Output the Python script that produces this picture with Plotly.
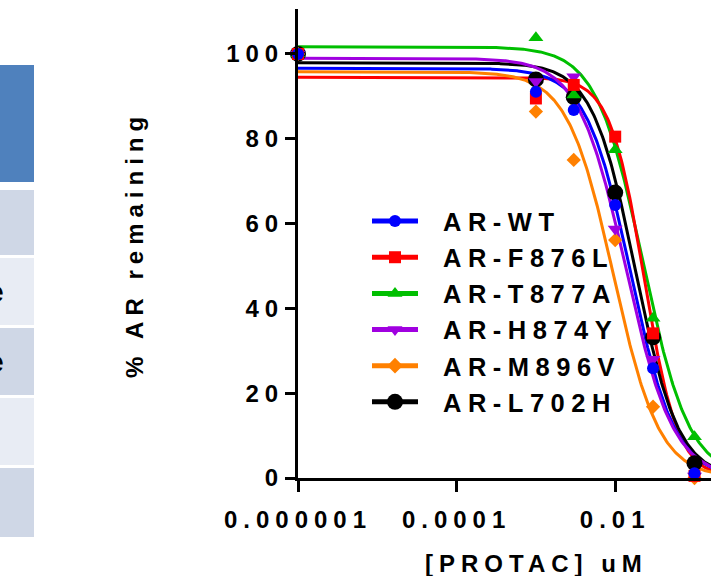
import numpy as np
import plotly.graph_objects as go

# ---------------- data ----------------
conc = [1e-6, 1e-3, 3e-3, 1e-2, 3e-2, 1e-1]
series_names = ["AR-WT", "AR-F876L", "AR-T877A", "AR-H874Y", "AR-M896V", "AR-L702H"]
wt    = [100, 91.1, 86.8, 64.4, 25.9, 1.1]
f876l = [100, 89.5, 92.7, 80.5, 34.1, 0.5]
t877a = [100, 103.8, 90.3, 77.4, 37.7, 9.7]
h874y = [100, 93.5, 94.6, 58.7, 28.0, 0.5]
m896v = [100, 86.4, 75.0, 56.1, 16.8, 0.0]
l702h = [100, 94.0, 89.8, 67.3, 33.2, 3.5]
values = [wt, f876l, t877a, h874y, m896v, l702h]

# fitted 4PL parameters (top, bottom, IC50 uM, hill)
fit_top    = [96.6, 94.5, 101.7, 99.0, 95.8, 97.9]
fit_bottom = [0, 0, 0, 0, 0, 0]
fit_ic50   = [0.0157, 0.0231, 0.0224, 0.0136, 0.0095, 0.018]
fit_hill   = [1.55, 2.04, 1.48, 1.45, 1.5, 1.6]

x_tickvals = [1e-6, 1e-4, 1e-2, 1]
x_ticktext = ["0.000001", "0.0001", "0.01", "1"]
y_tickvals = [0, 20, 40, 60, 80, 100]

# ---------------- styles ----------------
colors  = ["#0000FF", "#FF0000", "#00BF00", "#A000E0", "#FF8000", "#000000"]
symbols = ["circle", "square", "triangle-up", "triangle-down", "diamond", "circle"]
msizes  = [12, 12, 13, 13, 11, 16]
lsizes  = [12, 12, 13, 13, 12, 16]

W, H = 711, 576
ML, MR, MT, MB = 298, 0, 9, 98
PW, PH = W - ML - MR, H - MT - MB


def px_x(p):
    return (p - ML) / PW


def px_y(p):
    return (H - MB - p) / PH


fig = go.Figure()

xs = np.logspace(-6, -0.7, 400)
curve_order = [2, 1, 5, 0, 3, 4]
for i in curve_order:
    ys = fit_bottom[i] + (fit_top[i] - fit_bottom[i]) / (1 + (xs / fit_ic50[i]) ** fit_hill[i])
    fig.add_trace(go.Scatter(x=xs, y=ys, mode="lines", showlegend=False,
                             line=dict(color=colors[i], width=3), hoverinfo="skip"))

for i in [5, 4, 3, 2, 1, 0]:
    fig.add_trace(go.Scatter(x=conc, y=values[i], mode="markers", showlegend=False,
                             cliponaxis=False,
                             marker=dict(color=colors[i], symbol=symbols[i], size=msizes[i],
                                         line=dict(width=0))))

for i in range(6):
    fig.add_trace(go.Scatter(x=[None], y=[None], mode="lines+markers", name=series_names[i],
                             line=dict(color=colors[i], width=5),
                             marker=dict(color=colors[i], symbol=symbols[i], size=lsizes[i],
                                         line=dict(width=0))))

font_family = "Liberation Sans, Arial, sans-serif"

# partial table on the left
rows = [(65, 182, "#4F81BD"), (190, 255, "#CFD7E6"), (258, 325, "#E8ECF4"),
        (328, 395, "#CFD7E6"), (398, 465, "#E8ECF4"), (468, 537, "#CFD7E6")]
shapes = []
for y0, y1, c in rows:
    shapes.append(dict(type="rect", xref="paper", yref="paper",
                       x0=px_x(-5), x1=px_x(34), y0=px_y(y1), y1=px_y(y0),
                       fillcolor=c, line=dict(width=0), layer="below"))

annotations = [
    dict(text="% AR remaining", xref="paper", yref="paper", x=px_x(134), y=px_y(245),
         textangle=-90, showarrow=False, xanchor="center", yanchor="middle",
         font=dict(family=font_family, size=24, color="black", weight="bold")),
    dict(text="[PROTAC] uM", xref="paper", yref="paper", x=px_x(536), y=px_y(563),
         showarrow=False, xanchor="center", yanchor="middle",
         font=dict(family=font_family, size=24, color="black", weight="bold")),
]
for yc in [291, 361]:
    annotations.append(dict(text="e", xref="paper", yref="paper", x=px_x(9), y=px_y(yc),
                            showarrow=False, xanchor="right", yanchor="middle",
                            font=dict(family=font_family, size=30, color="black", weight="bold")))

fig.update_layout(
    width=W, height=H,
    margin=dict(l=ML, r=MR, t=MT, b=MB, pad=0),
    paper_bgcolor="white", plot_bgcolor="white",
    font=dict(family=font_family, color="black"),
    showlegend=True,
    legend=dict(x=px_x(367), y=px_y(198), xanchor="left", yanchor="top",
                bgcolor="rgba(0,0,0,0)", itemwidth=46, traceorder="normal",
                font=dict(family=font_family, size=25.5, color="black", weight="bold")),
    shapes=shapes,
    annotations=annotations,
)
fig.update_xaxes(type="log", range=[-6, -0.792], tickvals=x_tickvals, ticktext=x_ticktext,
                 showline=True, linewidth=3, linecolor="black", ticks="outside",
                 ticklen=11, tickwidth=3, tickcolor="black", showgrid=False, zeroline=False,
                 ticklabelstandoff=7,
                 tickfont=dict(family=font_family, size=24, color="black", weight="bold"))
fig.update_yaxes(range=[0, 110.6], tickvals=y_tickvals,
                 showline=True, linewidth=3, linecolor="black", ticks="outside",
                 ticklen=10, tickwidth=3, tickcolor="black", showgrid=False, zeroline=False,
                 ticklabelstandoff=-4,
                 tickfont=dict(family=font_family, size=24, color="black", weight="bold"))

post = """
var s = document.createElement('style');
s.innerHTML = '.xtick text, .ytick text {letter-spacing: 6px;} ' +
              '.legendtext {letter-spacing: 6.5px; transform: translateX(20px);} ' +
              '.legend, .legend * {clip-path: none !important;} ' +
              '.annotation-text {letter-spacing: 6px;}';
document.head.appendChild(s);
"""
fig.write_html("out.html", post_script=post)
